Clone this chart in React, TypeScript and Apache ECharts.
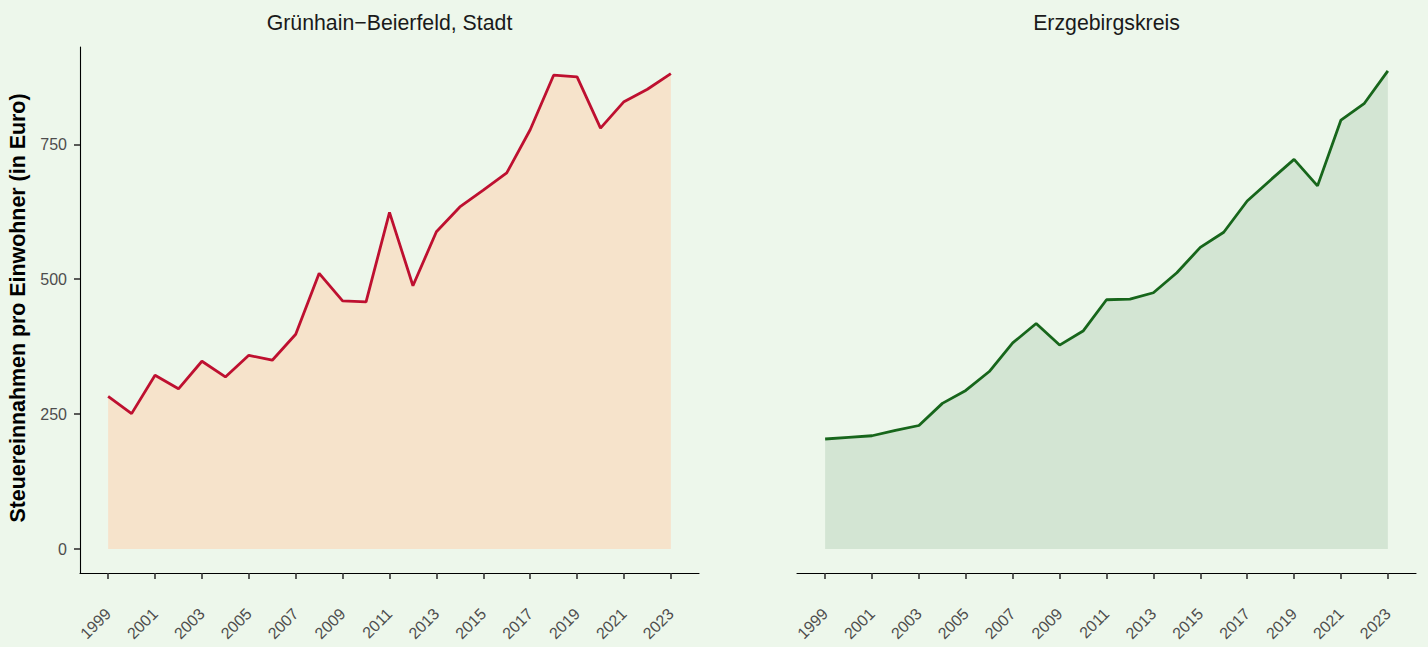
import React, { useEffect, useRef } from "react";
import * as echarts from "echarts";

const years = [1999, 2000, 2001, 2002, 2003, 2004, 2005, 2006, 2007, 2008, 2009, 2010, 2011, 2012, 2013, 2014, 2015, 2016, 2017, 2018, 2019, 2020, 2021, 2022, 2023];
const gruenhain = [283, 251, 322, 297, 348, 319, 359, 350, 398, 511, 460, 458, 624, 488, 588, 634, 665, 697, 777, 878, 875, 780, 829, 852, 881];
const erzgebirge = [204, 207, 210, 220, 229, 270, 294, 329, 382, 418, 378, 404, 462, 463, 475, 512, 559, 587, 645, 684, 722, 673, 795, 826, 886];
const xTicks = [1999, 2001, 2003, 2005, 2007, 2009, 2011, 2013, 2015, 2017, 2019, 2021, 2023];
const yTicks = [0, 250, 500, 750];
const panelTitles = ["Grünhain−Beierfeld, Stadt", "Erzgebirgskreis"];
const yTitle = "Steuereinnahmen pro Einwohner (in Euro)";

const FONT = "'Liberation Sans', Arial, Helvetica, sans-serif";

export default function App() {
  const ref = useRef<HTMLDivElement>(null);
  useEffect(() => {
    if (!ref.current) return;
    const chart = echarts.init(ref.current, null, { renderer: "svg" });
    const allMax = Math.max(...gruenhain, ...erzgebirge);
    const pad = allMax * 0.05;
    const yMin = -pad;
    const yMax = allMax + pad;
    const span = years[years.length - 1] - years[0];
    const xMin = years[0] - span * 0.05;
    const xMax = years[years.length - 1] + span * 0.05;

    const xAxisBase = (gridIndex: number) => ({
      type: "value",
      gridIndex,
      min: xMin,
      max: xMax,
      axisLine: { show: true, onZero: false, lineStyle: { color: "#000", width: 1.1 } },
      axisTick: { show: true, customValues: xTicks, length: 6, lineStyle: { color: "#333", width: 1.6 } },
      axisLabel: {
        show: true,
        customValues: xTicks,
        rotate: 45,
        margin: 38,
        color: "#4d4d4d",
        fontSize: 16,
        fontFamily: FONT,
        formatter: (v: number) => String(v),
      },
      splitLine: { show: false },
    });

    const lefts = [80, 797];
    const rights = [699, 1416];

    chart.setOption({
      animation: false,
      backgroundColor: "#EDF7EB",
      grid: [
        { left: lefts[0], width: rights[0] - lefts[0], top: 47, bottom: 74 },
        { left: lefts[1], width: rights[1] - lefts[1], top: 47, bottom: 74 },
      ],
      xAxis: [xAxisBase(0), xAxisBase(1)],
      yAxis: [
        {
          type: "value",
          gridIndex: 0,
          min: yMin,
          max: yMax,
          axisLine: { show: true, lineStyle: { color: "#000", width: 1.1 } },
          axisTick: { show: true, customValues: yTicks, length: 6, lineStyle: { color: "#333", width: 1.6 } },
          axisLabel: {
            show: true,
            customValues: yTicks,
            color: "#4d4d4d",
            fontSize: 16,
            fontFamily: FONT,
            margin: 13,
            formatter: (v: number) => String(v),
          },
          splitLine: { show: false },
        },
        {
          type: "value",
          gridIndex: 1,
          min: yMin,
          max: yMax,
          show: false,
          splitLine: { show: false },
        },
      ],
      graphic: [
        {
          type: "text",
          x: (lefts[0] + rights[0]) / 2,
          y: 23,
          style: { text: panelTitles[0], font: `21.3px ${FONT}`, fill: "#1a1a1a", textAlign: "center", textVerticalAlign: "middle" },
        },
        {
          type: "text",
          x: (lefts[1] + rights[1]) / 2,
          y: 23,
          style: { text: panelTitles[1], font: `21.3px ${FONT}`, fill: "#1a1a1a", textAlign: "center", textVerticalAlign: "middle" },
        },
        {
          type: "text",
          x: 17.5,
          y: 308,
          rotation: Math.PI / 2,
          style: { text: yTitle, font: `bold 21.4px ${FONT}`, fill: "#000", textAlign: "center", textVerticalAlign: "middle" },
        },
      ],
      series: [
        {
          type: "line",
          xAxisIndex: 0,
          yAxisIndex: 0,
          data: years.map((y, i) => [y, gruenhain[i]]),
          symbol: "none",
          lineStyle: { color: "#BE1030", width: 2.8 },
          areaStyle: { color: "#F6E3CB", opacity: 1, origin: 0 },
          z: 2,
        },
        {
          type: "line",
          xAxisIndex: 1,
          yAxisIndex: 1,
          data: years.map((y, i) => [y, erzgebirge[i]]),
          symbol: "none",
          lineStyle: { color: "#17661B", width: 2.8 },
          areaStyle: { color: "#D3E5D3", opacity: 1, origin: 0 },
          z: 2,
        },
      ],
    });
    return () => chart.dispose();
  }, []);
  return (
    <div
      ref={ref}
      style={{ position: "fixed", left: 0, top: 0, width: 1428, height: 647 }}
    />
  );
}
